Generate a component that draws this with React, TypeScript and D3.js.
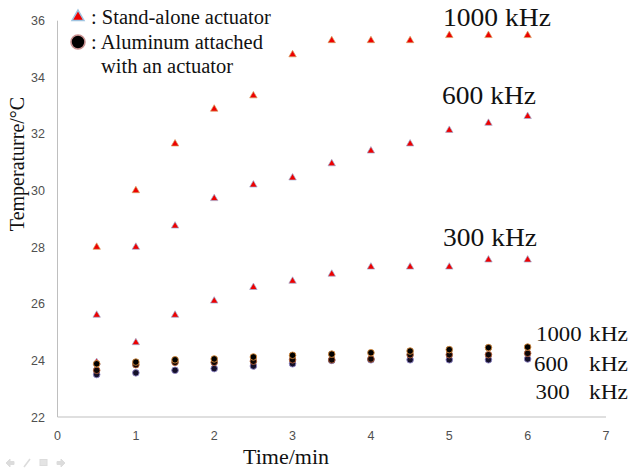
import React from "react";
import * as d3 from "d3";

const times = [0.5, 1, 1.5, 2, 2.5, 3, 3.5, 4, 4.5, 5, 5.5, 6];
const tri1000 = [28.0, 30.0, 31.65, 32.88, 33.35, 34.8, 35.3, 35.3, 35.3, 35.48, 35.48, 35.48];
const tri600 = [25.6, 28.0, 28.75, 29.72, 30.2, 30.45, 30.95, 31.4, 31.65, 32.13, 32.38, 32.62];
const tri300 = [23.93, 24.63, 25.6, 26.1, 26.58, 26.8, 27.05, 27.3, 27.3, 27.3, 27.55, 27.55];
const dot1000 = [23.88, 23.94, 24.02, 24.05, 24.12, 24.18, 24.22, 24.27, 24.33, 24.38, 24.45, 24.47];
const dot600 = [23.65, 23.85, 23.93, 23.93, 23.97, 24.02, 24.02, 24.05, 24.2, 24.2, 24.2, 24.25];
const dot300 = [23.5, 23.56, 23.65, 23.71, 23.8, 23.88, 24.0, 24.02, 24.02, 24.02, 24.02, 24.05];
const xTicks = [0, 1, 2, 3, 4, 5, 6, 7];
const yTicks = [22, 24, 26, 28, 30, 32, 34, 36];

const serif = "'Liberation Serif', 'Times New Roman', serif";
const sans = "'Liberation Sans', Arial, sans-serif";

export default function App() {
  const x = d3.scaleLinear().domain([0, 7]).range([57.5, 606]);
  const y = d3.scaleLinear().domain([22, 36]).range([417, 20.7]);
  const tri = d3.symbol().type(d3.symbolTriangle).size(24)() as string;
  const triLegend = d3.symbol().type(d3.symbolTriangle).size(62)() as string;

  const triSeries = [tri1000, tri600, tri300];
  const dotSeries = [
    { v: dot300, fill: "#14102a", stroke: "#8e84c4" },
    { v: dot600, fill: "#0d0606", stroke: "#b5603a" },
    { v: dot1000, fill: "#000", stroke: "#d88a3a" },
  ];

  return (
    <svg width={630} height={472} style={{ position: "absolute", left: 0, top: 0, background: "#fff" }}>
      {/* axes */}
      <line x1={x(0)} x2={x(0)} y1={y(36)} y2={y(22)} stroke="#bfbfbf" strokeWidth={1} />
      <line x1={x(0)} x2={x(7)} y1={y(22)} y2={y(22)} stroke="#bfbfbf" strokeWidth={1} />
      {yTicks.map((t) => (
        <text key={"y" + t} x={45} y={y(t) + 4.5} textAnchor="end" fontFamily={sans} fontSize={12.5} fill="#505050">
          {t}
        </text>
      ))}
      {xTicks.map((t) => (
        <text key={"x" + t} x={x(t)} y={440} textAnchor="middle" fontFamily={sans} fontSize={12.5} fill="#505050">
          {t}
        </text>
      ))}
      <text x={286} y={463.5} textAnchor="middle" fontFamily={serif} fontSize={22} fill="#111">
        Time/min
      </text>
      <text transform="translate(24,164) rotate(-90)" textAnchor="middle" fontFamily={serif} fontSize={20} fill="#111">
        Temperaturre/°C
      </text>

      {/* triangles */}
      {triSeries.map((s, si) =>
        s.map((v, i) => (
          <path
            key={"t" + si + "-" + i}
            d={tri}
            transform={`translate(${x(times[i])},${y(v)})`}
            fill="#ee0000"
            stroke={si === 0 ? "#d9a060" : "#9fb0d6"}
            strokeWidth={0.7}
          />
        ))
      )}
      {/* dots */}
      {dotSeries.map((s, si) =>
        s.v.map((v, i) => (
          <circle
            key={"d" + si + "-" + i}
            cx={x(times[i])}
            cy={y(v)}
            r={3.3}
            fill={s.fill}
            stroke={s.stroke}
            strokeWidth={0.9}
          />
        ))
      )}

      {/* legend */}
      <path d={triLegend} transform="translate(78,17)" fill="#ee0000" stroke="#9ec3e0" strokeWidth={1.5} />
      <circle cx={78} cy={42} r={7} fill="#000" stroke="#c89090" strokeWidth={1.6} />
      <text x={91} y={24} fontFamily={serif} fontSize={20.5} fill="#111">
        : Stand-alone actuator
      </text>
      <text x={91} y={48.5} fontFamily={serif} fontSize={20.5} fill="#111">
        : Aluminum attached
      </text>
      <text x={101} y={73} fontFamily={serif} fontSize={20.5} fill="#111">
        with an actuator
      </text>

      {/* series labels */}
      <text x={443} y={26} fontFamily={serif} fontSize={26} fill="#111" textLength={108} lengthAdjust="spacingAndGlyphs">
        1000 kHz
      </text>
      <text x={442} y={104} fontFamily={serif} fontSize={26} fill="#111" textLength={94} lengthAdjust="spacingAndGlyphs">
        600 kHz
      </text>
      <text x={443} y={245.5} fontFamily={serif} fontSize={26} fill="#111" textLength={94} lengthAdjust="spacingAndGlyphs">
        300 kHz
      </text>

      {[
        { n: "1000", x0: 536, yb: 341 },
        { n: "600", x0: 534, yb: 370.5 },
        { n: "300", x0: 535.5, yb: 398.5 },
      ].map((l) => (
        <g key={l.n}>
          <text x={l.x0} y={l.yb} fontFamily={serif} fontSize={22} fill="#111" textLength={l.n.length * 11.4} lengthAdjust="spacingAndGlyphs">
            {l.n}
          </text>
          <text x={589} y={l.yb} fontFamily={serif} fontSize={22} fill="#111" textLength={39} lengthAdjust="spacingAndGlyphs">
            kHz
          </text>
        </g>
      ))}

      {/* faint slideshow icons */}
      <g stroke="#dcdcdc" fill="#dcdcdc" strokeWidth={1}>
        <path d="M6,463 L10,459 L10,461.5 L14,461.5 L14,464.5 L10,464.5 L10,467 Z" />
        <line x1={24} y1={467} x2={30} y2={459} strokeWidth={1.5} />
        <rect x={40} y={459.5} width={7} height={6} fill="#e4e4e4" />
        <path d="M65,463 L61,459 L61,461.5 L57,461.5 L57,464.5 L61,464.5 L61,467 Z" />
      </g>
    </svg>
  );
}
